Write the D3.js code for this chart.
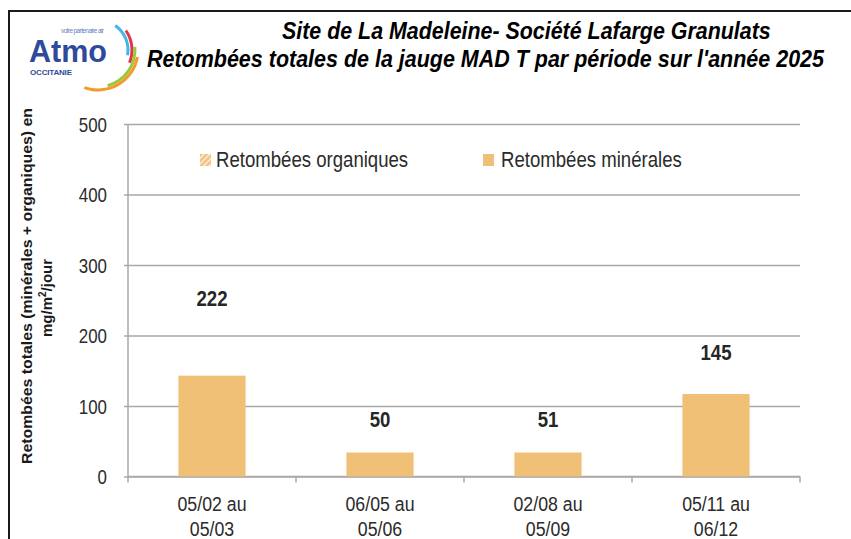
<!DOCTYPE html>
<html>
<head>
<meta charset="utf-8">
<script src="https://cdn.jsdelivr.net/npm/d3@7"></script>
<style>
  body { margin: 0; background: #fff; }
  svg text { font-family: "Liberation Sans", Arial, sans-serif; }
</style>
</head>
<body>
<div id="chart"></div>
<script>
// Periods (two lines each), mineral part and organic part in mg/m2/jour.
var periodStart = ["05/02 au", "06/05 au", "02/08 au", "05/11 au"];
var periodEnd = ["05/03", "05/06", "05/09", "06/12"];
var mineral = [143, 34, 34, 117];
var organic = [79, 16, 17, 28];
var yTicks = [0, 100, 200, 300, 400, 500];
var legendLabels = ["Retombées organiques", "Retombées minérales"];

var W = 851, H = 539;
var barColor = "#f0c077";
var gridColor = "#a9a9a9";
var narrow = 0.845;   // the source uses a narrow face, squeeze text horizontally

function squeeze(x, y) {
    return "translate(" + x + "," + y + ") scale(" + narrow + ",1)";
}

var svg = d3.select("#chart").append("svg")
    .attr("width", W)
    .attr("height", H);

svg.append("rect").attr("width", W).attr("height", H).attr("fill", "#fff");

// Hatch pattern for the organic legend swatch.
var defs = svg.append("defs");
var pat = defs.append("pattern")
    .attr("id", "hatch")
    .attr("patternUnits", "userSpaceOnUse")
    .attr("width", 4).attr("height", 4)
    .attr("patternTransform", "rotate(45)");
pat.append("rect").attr("width", 4).attr("height", 4).attr("fill", "#fbe6c6");
pat.append("rect").attr("width", 2).attr("height", 4).attr("fill", barColor);

// Outer frame (top and left edges show in the picture).
svg.append("path")
    .attr("d", "M9,539 V11 H851")
    .attr("fill", "none")
    .attr("stroke", "#1a1a1a")
    .attr("stroke-width", 2);

// Plot scales.
var plot = {left: 128, right: 800, top: 124, bottom: 476.5};

var x = d3.scaleBand()
    .domain(periodStart.map(function(d, i){ return i; }))
    .range([plot.left, plot.right])
    .paddingInner(0.6)
    .paddingOuter(0.3);

var y = d3.scaleLinear()
    .domain([0, 500])
    .range([plot.bottom, plot.top]);

// Gridlines + y axis.
var yAxis = d3.axisLeft(y)
    .tickValues(yTicks)
    .tickSize(-(plot.right - plot.left))
    .tickFormat(d3.format("d"));

var gy = svg.append("g")
    .attr("transform", "translate(" + plot.left + ",0)")
    .call(yAxis);
gy.select(".domain").remove();
gy.selectAll(".tick line")
    .attr("stroke", gridColor)
    .attr("stroke-width", 1.5)
    .attr("x1", -4);
gy.selectAll(".tick text")
    .attr("font-family", null)
    .attr("font-size", 20)
    .attr("fill", "#2b2b2b")
    .attr("x", 0)
    .attr("dy", "0.36em")
    .attr("transform", squeeze(-21, 0));

svg.append("line")
    .attr("x1", plot.left).attr("x2", plot.left)
    .attr("y1", plot.top).attr("y2", plot.bottom)
    .attr("stroke", gridColor).attr("stroke-width", 1.5);

// x axis: ticks sit on band edges.
var step = x.step();
var edges = d3.range(periodStart.length + 1).map(function(i){ return plot.left + i * step; });
var gx = svg.append("g");
gx.append("line")
    .attr("x1", plot.left).attr("x2", plot.right)
    .attr("y1", plot.bottom).attr("y2", plot.bottom)
    .attr("stroke", gridColor).attr("stroke-width", 1.5);
gx.selectAll("line.tk")
    .data(edges)
    .enter().append("line")
        .attr("class", "tk")
        .attr("x1", function(d){ return d; }).attr("x2", function(d){ return d; })
        .attr("y1", plot.bottom).attr("y2", plot.bottom + 6)
        .attr("stroke", gridColor).attr("stroke-width", 1.5);

var xl = gx.selectAll("text.xl")
    .data(periodStart)
    .enter().append("text")
        .attr("class", "xl")
        .attr("transform", function(d, i){ return squeeze(x(i) + x.bandwidth() / 2, 0); })
        .attr("text-anchor", "middle")
        .attr("font-size", 21)
        .attr("fill", "#2b2b2b");
xl.append("tspan")
    .attr("x", 0)
    .attr("y", 511)
    .text(function(d){ return d; });
xl.append("tspan")
    .attr("x", 0)
    .attr("y", 536)
    .text(function(d, i){ return periodEnd[i]; });

// Mineral bars (the organic part is not visible in the source picture).
svg.selectAll("rect.bar")
    .data(mineral)
    .enter().append("rect")
        .attr("class", "bar")
        .attr("x", function(d, i){ return x(i); })
        .attr("y", function(d){ return y(d); })
        .attr("width", x.bandwidth())
        .attr("height", function(d){ return y(0) - y(d); })
        .attr("fill", barColor);

// Total labels placed above the stacked total.
svg.selectAll("text.total")
    .data(mineral)
    .enter().append("text")
        .attr("class", "total")
        .attr("transform", function(d, i){
            return squeeze(x(i) + x.bandwidth() / 2, y(d + organic[i]) - 14);
        })
        .attr("text-anchor", "middle")
        .attr("font-size", 22)
        .attr("font-weight", "bold")
        .attr("fill", "#262626")
        .text(function(d, i){ return d + organic[i]; });

// Legend.
var legendX = [200, 483];
var legend = svg.selectAll("g.leg")
    .data(legendLabels)
    .enter().append("g")
        .attr("class", "leg")
        .attr("transform", function(d, i){ return "translate(" + legendX[i] + ",154)"; });
legend.append("rect")
    .attr("width", 11).attr("height", 12)
    .attr("fill", function(d, i){ return i === 0 ? "url(#hatch)" : barColor; });
legend.append("text")
    .attr("transform", function(d, i){ return squeeze(i === 0 ? 16 : 18, 13); })
    .attr("font-size", 22)
    .attr("fill", "#2b2b2b")
    .text(function(d){ return d; });

// Y axis title, two lines, rotated.
var yTitle = svg.append("text")
    .attr("transform", "translate(0,286) rotate(-90)")
    .attr("text-anchor", "middle")
    .attr("font-size", 15)
    .attr("font-weight", "bold")
    .attr("fill", "#1a1a1a");
yTitle.append("tspan")
    .attr("x", 0).attr("y", 32)
    .attr("textLength", 356)
    .attr("lengthAdjust", "spacingAndGlyphs")
    .text("Retombées totales  (minérales + organiques) en");
var l2 = yTitle.append("tspan")
    .attr("x", -12).attr("y", 52);
l2.append("tspan").text("mg/m");
l2.append("tspan").attr("font-size", 10).attr("dy", -6).text("2");
l2.append("tspan").attr("dy", 6).text("/jour");

// Title: measured, then squeezed to the span seen in the source.
var titleLines = [
    {text: "Site de La Madeleine- Société Lafarge Granulats", x0: 282, x1: 771, y: 39},
    {text: "Retombées totales de la jauge MAD T par période sur l'année 2025", x0: 147, x1: 824, y: 67}
];
svg.selectAll("text.title")
    .data(titleLines)
    .enter().append("text")
        .attr("class", "title")
        .attr("font-size", 23)
        .attr("font-weight", "bold")
        .attr("font-style", "italic")
        .attr("fill", "#000")
        .text(function(d){ return d.text; })
        .attr("transform", function(d){
            var len = this.getComputedTextLength();
            return "translate(" + d.x0 + "," + d.y + ") scale(" + ((d.x1 - d.x0) / len) + ",1)";
        });

// Atmo Occitanie logo.
var logo = svg.append("g");
logo.append("text")
    .attr("x", 29).attr("y", 62)
    .attr("font-size", 32)
    .attr("font-weight", "bold")
    .attr("fill", "#2e4b9b")
    .attr("textLength", 78)
    .attr("lengthAdjust", "spacingAndGlyphs")
    .text("Atmo");
logo.append("text")
    .attr("x", 61).attr("y", 33)
    .attr("font-size", 6.5)
    .attr("fill", "#6a7fbf")
    .attr("textLength", 43)
    .text("votre partenaire air");
logo.append("text")
    .attr("x", 30).attr("y", 75)
    .attr("font-size", 8)
    .attr("font-weight", "bold")
    .attr("fill", "#2e4b9b")
    .attr("textLength", 42)
    .text("OCCITANIE");

var arcs = [
    {r: 30, a0: 35, a1: 100, c: "#3fb6e6"},
    {r: 34, a0: 55, a1: 112, c: "#e3354a"},
    {r: 37, a0: 85, a1: 165, c: "#9cc93b"},
    {r: 40, a0: 100, a1: 200, c: "#f39a2b"}
];
var arcGen = d3.arc();
logo.selectAll("path.arc")
    .data(arcs)
    .enter().append("path")
        .attr("class", "arc")
        .attr("transform", "translate(98,50)")
        .attr("fill", function(d){ return d.c; })
        .attr("d", function(d){
            return arcGen({innerRadius: d.r - 1.5, outerRadius: d.r + 1.5,
                startAngle: d.a0 * Math.PI / 180, endAngle: d.a1 * Math.PI / 180});
        });
</script>
</body>
</html>
